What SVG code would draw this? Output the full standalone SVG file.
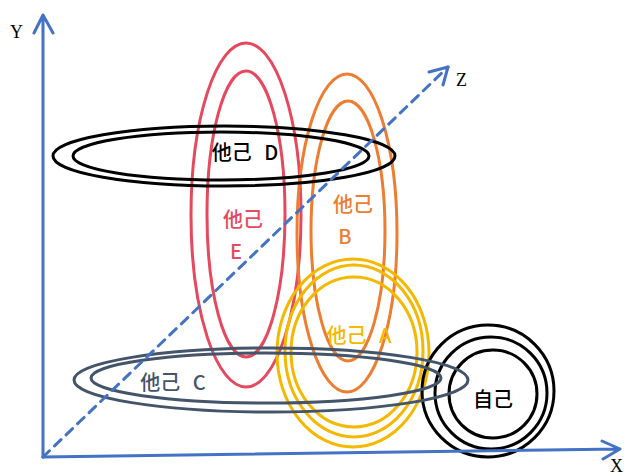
<svg xmlns="http://www.w3.org/2000/svg" width="624" height="475" viewBox="0 0 624 475">
<style>
.r{fill:none;stroke-width:3}
.lbl{font-family:"Noto Sans CJK SC","Noto Sans",sans-serif;font-size:20px;font-weight:500;text-anchor:middle;dominant-baseline:central;word-spacing:8px}
.ax{fill:none;stroke:#4472C4;stroke-width:3;stroke-linecap:round;stroke-linejoin:round}
.axl{font-family:"Liberation Serif",serif;font-size:18px;fill:#000}
</style>
<rect width="624" height="475" fill="#fff"/>
<g id="E">
<ellipse class="r" stroke="#E5495E" cx="246" cy="215" rx="55" ry="172"/>
<ellipse class="r" stroke="#E5495E" cx="246" cy="214" rx="39" ry="143"/>
<text class="lbl" fill="#E5495E" x="243" y="218">他己</text>
<text class="lbl" fill="#E5495E" x="236" y="250">E</text>
</g>
<g id="B">
<ellipse class="r" stroke="#ED7D31" cx="347" cy="233" rx="50" ry="159"/>
<ellipse class="r" stroke="#ED7D31" cx="348" cy="231" rx="37" ry="130"/>
<text class="lbl" fill="#ED7D31" x="353" y="203">他己</text>
<text class="lbl" fill="#ED7D31" x="345" y="235">B</text>
</g>
<g id="D">
<ellipse class="r" stroke="#000" cx="224" cy="156" rx="171" ry="30"/>
<ellipse class="r" stroke="#000" cx="221" cy="156" rx="148" ry="24"/>
<text class="lbl" fill="#000" x="245" y="151">他己 D</text>
</g>
<g id="A">
<ellipse class="r" stroke="#F5B800" cx="353" cy="353" rx="76" ry="94"/>
<ellipse class="r" stroke="#F5B800" cx="354" cy="351" rx="69" ry="86"/>
<ellipse class="r" stroke="#F5B800" cx="354" cy="352" rx="63" ry="75"/>
<text class="lbl" fill="#F5B800" x="359" y="334">他己 A</text>
</g>
<g id="self">
<circle class="r" stroke="#000" cx="488" cy="391" r="66"/>
<circle class="r" stroke="#000" cx="491" cy="393" r="56"/>
<circle class="r" stroke="#000" cx="493" cy="394" r="44"/>
<text class="lbl" fill="#000" x="493" y="398">自己</text>
</g>
<g id="C">
<ellipse class="r" stroke="#44546A" cx="271" cy="380" rx="197" ry="32"/>
<ellipse class="r" stroke="#44546A" cx="266" cy="378" rx="175" ry="25"/>
<text class="lbl" fill="#44546A" x="173" y="381">他己 C</text>
</g>
<g id="connectors">
<path class="ax" d="M43,457 V15 M34,33 L43,15 L53,33"/>
<path class="ax" d="M43,457 L620,449 M602,441 L620,449 L603,459"/>
<path class="ax" d="M43,457 L448,67" stroke-dasharray="9,7"/>
<path class="ax" d="M429,72 L448,67 L443,85"/>
<text class="axl" x="10" y="38">Y</text>
<text class="axl" x="456" y="86">Z</text>
<text class="axl" x="610" y="472">X</text>
</g>
</svg>
